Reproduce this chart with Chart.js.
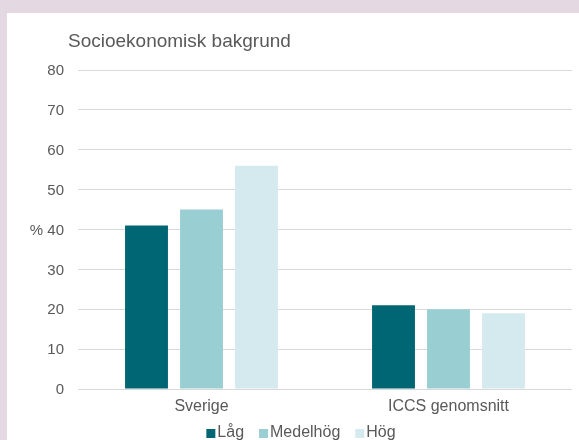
<!DOCTYPE html>
<html><head><meta charset="utf-8">
<script src="https://cdn.jsdelivr.net/npm/chart.js@4/dist/chart.umd.min.js"></script>
<style>
html,body{margin:0;padding:0;background:#e4d9e2;width:579px;height:440px;overflow:hidden;}
#wrap{position:absolute;left:7px;top:13px;width:572px;height:427px;background:#fff;}
canvas{display:block;}
</style></head><body>
<div id="wrap"><canvas id="c" width="572" height="427"></canvas></div>
<script>
const title = "Socioekonomisk bakgrund";
const categories = ["Sverige", "ICCS genomsnitt"];
const seriesNames = ["Låg", "Medelhög", "Hög"];
const lag = [41, 21];
const medelhog = [45, 20];
const hog = [56, 19];
const yTicks = [0, 10, 20, 30, 40, 50, 60, 70, 80];
const yTickLabels = ["0", "10", "20", "30", "% 40", "50", "60", "70", "80"];
const colors = ["#006674", "#99cfd2", "#d5eaee"];
const FONT = "'Liberation Sans', Arial, sans-serif";
const TXT = "#595959";

const overlay = {
  id: 'overlay',
  afterDraw(chart) {
    const ctx = chart.ctx;
    ctx.save();
    ctx.fillStyle = TXT;
    ctx.font = "19px " + FONT;
    ctx.textBaseline = 'middle';
    ctx.textAlign = 'left';
    ctx.fillText(title, 61, 29);
    // legend
    ctx.font = "16px " + FONT;
    const box = 9, gap = 2, spacing = 15;
    const items = chart.data.datasets.map(d => ({label: d.label, color: d.backgroundColor, w: ctx.measureText(d.label).width}));
    let total = 0;
    items.forEach((it, i) => { total += box + gap + it.w + (i < items.length - 1 ? spacing : 0); });
    let x = 294 - total / 2;
    const cy = 420;
    items.forEach(it => {
      ctx.fillStyle = it.color;
      ctx.fillRect(x, cy - 4, box, box);
      ctx.fillStyle = TXT;
      ctx.fillText(it.label, x + box + gap, cy);
      x += box + gap + it.w + spacing;
    });
    ctx.restore();
  }
};

new Chart(document.getElementById('c'), {
  type: 'bar',
  data: {
    labels: categories,
    datasets: [
      {label: seriesNames[0], data: lag, backgroundColor: colors[0]},
      {label: seriesNames[1], data: medelhog, backgroundColor: colors[1]},
      {label: seriesNames[2], data: hog, backgroundColor: colors[2]}
    ]
  },
  options: {
    responsive: false,
    animation: false,
    layout: {padding: {top: 57, right: 7, left: 0, bottom: 0}},
    datasets: {bar: {categoryPercentage: 0.668, barPercentage: 0.78}},
    plugins: {legend: {display: false}, title: {display: false}, tooltip: {enabled: false}},
    scales: {
      x: {
        grid: {display: false, drawTicks: false},
        border: {display: false},
        ticks: {color: TXT, font: {family: FONT, size: 16}, padding: 8},
        afterFit(s) { s.height = 51; }
      },
      y: {
        min: 0, max: 80,
        afterBuildTicks(s) { s.ticks = yTicks.map(v => ({value: v})); },
        grid: {color: '#d9d9d9', drawTicks: false},
        border: {display: false},
        ticks: {
          color: TXT, font: {family: FONT, size: 15}, padding: 14, labelOffset: 1,
          callback(v) { const i = yTicks.indexOf(v); return i >= 0 ? yTickLabels[i] : ''; }
        },
        afterFit(s) { s.width = 71; }
      }
    }
  },
  plugins: [overlay]
});
</script>
</body></html>
